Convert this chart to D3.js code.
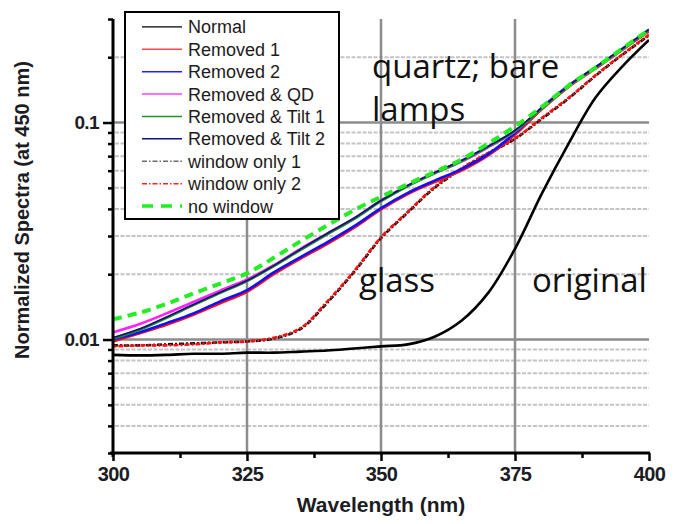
<!DOCTYPE html>
<html>
<head>
<meta charset="utf-8">
<script src="https://cdn.jsdelivr.net/npm/d3@7/dist/d3.min.js"></script>
<style>
  html, body { margin: 0; padding: 0; background: #fff; }
  svg { display: block; }
</style>
</head>
<body>
<svg id="chart" width="677" height="524"></svg>
<script>
// Wavelength grid (nm)
const wavelength = [300, 305, 310, 315, 320, 325, 330, 335, 340, 345, 350,
                    355, 360, 365, 370, 375, 380, 385, 390, 395, 400];

// Normalized spectra (normalized at 450 nm)
const normal      = [0.0085, 0.00845, 0.0085, 0.0086, 0.0086, 0.0087, 0.0087, 0.0088, 0.0089, 0.0091, 0.0093,
                     0.0095, 0.0103, 0.0122, 0.0164, 0.0262, 0.047, 0.080, 0.130, 0.181, 0.240];
const removed1    = [0.0098, 0.0107, 0.0117, 0.0130, 0.0147, 0.0166, 0.0200, 0.0236, 0.0276, 0.0328, 0.0398,
                     0.0468, 0.0532, 0.0600, 0.0705, 0.0880, 0.115, 0.146, 0.177, 0.216, 0.264];
const removed2    = [0.0100, 0.0108, 0.0119, 0.0132, 0.0150, 0.0169, 0.0204, 0.0240, 0.0281, 0.0333, 0.0403,
                     0.0474, 0.0540, 0.0610, 0.0715, 0.0895, 0.117, 0.148, 0.179, 0.218, 0.267];
const removedQD   = [0.0108, 0.0118, 0.0132, 0.0149, 0.0168, 0.0189, 0.0220, 0.0262, 0.0308, 0.0362, 0.0438,
                     0.0512, 0.0585, 0.0660, 0.0770, 0.0910, 0.116, 0.147, 0.178, 0.217, 0.267];
const removedTilt1 = [0.0101, 0.0111, 0.0126, 0.0144, 0.0164, 0.0186, 0.0218, 0.0259, 0.0306, 0.0360, 0.0434,
                     0.0510, 0.0583, 0.0665, 0.0775, 0.0915, 0.116, 0.147, 0.179, 0.218, 0.268];
const removedTilt2 = [0.0102, 0.0112, 0.0127, 0.0145, 0.0165, 0.0187, 0.0219, 0.0261, 0.0309, 0.0363, 0.0437,
                     0.0513, 0.0588, 0.0668, 0.0778, 0.0920, 0.117, 0.148, 0.180, 0.219, 0.269];
const windowOnly1 = [0.0094, 0.0094, 0.0095, 0.0096, 0.0097, 0.0098, 0.0101, 0.0112, 0.0148, 0.0205, 0.0293,
                     0.0385, 0.0500, 0.0610, 0.0720, 0.0840, 0.104, 0.129, 0.164, 0.205, 0.252];
const windowOnly2 = [0.0093, 0.0094, 0.0094, 0.0095, 0.0097, 0.0098, 0.0102, 0.0113, 0.0150, 0.0207, 0.0296,
                     0.0388, 0.0505, 0.0615, 0.0725, 0.0845, 0.105, 0.130, 0.165, 0.206, 0.254];
const noWindow    = [0.0124, 0.0133, 0.0146, 0.0163, 0.0181, 0.0202, 0.0238, 0.0284, 0.0336, 0.0395, 0.0455,
                     0.0520, 0.0592, 0.0675, 0.0800, 0.0960, 0.118, 0.148, 0.179, 0.219, 0.268];

// Axis ticks
const xMajorTicks = [300, 325, 350, 375, 400];
const xMinorTicks = [312.5, 337.5, 362.5, 387.5];
const yMajorTicks = [0.01, 0.1];
const yMajorLabels = ["0.01", "0.1"];
const yMinorTicks = [0.003, 0.004, 0.005, 0.006, 0.007, 0.008, 0.009,
                     0.02, 0.03, 0.04, 0.05, 0.06, 0.07, 0.08, 0.09, 0.2, 0.3];

// Text annotations
const notes = [
  { text: "quartz; bare", x: 372, y: 78 },
  { text: "lamps", x: 372, y: 121 },
  { text: "glass", x: 359, y: 292 },
  { text: "original", x: 532, y: 292 }
];

// Series drawing order and styles
const series = [
  { name: "window only 1",    values: windowOnly1,  color: "#111111", width: 2.6, dash: "5,2,2,2", offset: 0,   lColor: "#6a6a6a", lWidth: 1.5, lDash: "5,2,1.5,2" },
  { name: "window only 2",    values: windowOnly2,  color: "#ff1010", width: 2.6, dash: "5,2,2,2", offset: 5.5, lColor: "#ff2020", lWidth: 1.5, lDash: "5,2,1.5,2" },
  { name: "Removed 1",        values: removed1,     color: "#ff1010", width: 2.6, lColor: "#ff4a4a", lWidth: 1.5 },
  { name: "Removed 2",        values: removed2,     color: "#1010ff", width: 2.6, lColor: "#2020ff", lWidth: 1.5 },
  { name: "Removed & QD",     values: removedQD,    color: "#ff20ff", width: 2.6, lColor: "#ff40ff", lWidth: 1.5 },
  { name: "Removed & Tilt 1", values: removedTilt1, color: "#228b22", width: 2.6, lColor: "#2a8f2a", lWidth: 1.5 },
  { name: "Removed & Tilt 2", values: removedTilt2, color: "#101080", width: 1.6, lColor: "#101080", lWidth: 1.5 },
  { name: "no window",        values: noWindow,     color: "#22ee22", width: 4,   dash: "9,6",     offset: 0,   lColor: "#22ee22", lWidth: 3.5, lDash: "11,8" },
  { name: "Normal",           values: normal,       color: "#000000", width: 2.6, lColor: "#000000", lWidth: 1.2 }
];
const legendOrder = ["Normal", "Removed 1", "Removed 2", "Removed & QD", "Removed & Tilt 1",
                     "Removed & Tilt 2", "window only 1", "window only 2", "no window"];

const svg = d3.select("#chart");
const plot = { left: 113, right: 649, top: 19, bottom: 453 };

const x = d3.scaleLinear().domain([300, 400]).range([plot.left, plot.right]);
const y = d3.scaleLog().domain([0.003, 0.3]).range([plot.bottom, plot.top]);

svg.append("defs").append("clipPath").attr("id", "plotClip")
  .append("rect")
  .attr("x", plot.left).attr("y", plot.top)
  .attr("width", plot.right - plot.left).attr("height", plot.bottom - plot.top);

// Grid: dashed minor lines, solid major lines
const grid = svg.append("g");
grid.selectAll("line.minor")
  .data(yMinorTicks.filter(v => v > 0.003 && v < 0.3))
  .join("line")
  .attr("x1", plot.left + 2).attr("x2", plot.right)
  .attr("y1", d => y(d)).attr("y2", d => y(d))
  .attr("stroke", "#c4c4c4").attr("stroke-width", 2)
  .attr("stroke-dasharray", "4,1.5");
grid.selectAll("line.hmajor")
  .data(yMajorTicks)
  .join("line")
  .attr("x1", plot.left).attr("x2", plot.right)
  .attr("y1", d => y(d)).attr("y2", d => y(d))
  .attr("stroke", "#8c8c8c").attr("stroke-width", 2.5);
grid.selectAll("line.vmajor")
  .data(xMajorTicks.filter(v => v > 300 && v < 400))
  .join("line")
  .attr("x1", d => x(d)).attr("x2", d => x(d))
  .attr("y1", plot.top).attr("y2", plot.bottom)
  .attr("stroke", "#8c8c8c").attr("stroke-width", 2.5);

// Curves
const line = d3.line()
  .x((d, i) => x(wavelength[i]))
  .y(d => y(d))
  .curve(d3.curveCatmullRom.alpha(0.5));

const curves = svg.append("g").attr("clip-path", "url(#plotClip)");
series.forEach(s => {
  curves.append("path")
    .datum(s.values)
    .attr("d", line)
    .attr("fill", "none")
    .attr("stroke", s.color)
    .attr("stroke-width", s.width)
    .attr("stroke-linejoin", "round")
    .attr("stroke-dasharray", s.dash || null)
    .attr("stroke-dashoffset", s.offset || 0);
});

// Axes
const tickFont = "'Liberation Sans', Arial, sans-serif";

const xAxis = svg.append("g")
  .attr("transform", `translate(0,${plot.bottom})`)
  .call(d3.axisBottom(x).tickValues(xMajorTicks).tickSize(8).tickPadding(6)
        .tickFormat(d3.format("d")).tickSizeOuter(0));
xAxis.select(".domain").attr("stroke", "#000").attr("stroke-width", 2.8)
  .attr("d", `M${plot.left - 3},0H${plot.right + 1}`);
xAxis.selectAll(".tick line").attr("stroke", "#000").attr("stroke-width", 2.5);
xAxis.selectAll(".tick text")
  .attr("fill", "#1c1c24").attr("font-family", tickFont)
  .attr("font-weight", "bold").attr("font-size", 20).attr("letter-spacing", -0.6);

svg.append("g")
  .attr("transform", `translate(0,${plot.bottom})`)
  .call(d3.axisBottom(x).tickValues(xMinorTicks).tickSize(5).tickFormat(""))
  .call(g => g.select(".domain").remove())
  .call(g => g.selectAll(".tick line").attr("stroke", "#000").attr("stroke-width", 2.5));

const yAxis = svg.append("g")
  .attr("transform", `translate(${plot.left},0)`)
  .call(d3.axisLeft(y).tickValues(yMajorTicks).tickSize(10).tickPadding(4)
        .tickFormat((d, i) => yMajorLabels[i]).tickSizeOuter(0));
yAxis.select(".domain").attr("stroke", "#000").attr("stroke-width", 3)
  .attr("d", `M0,${plot.top}V${plot.bottom + 4}`);
yAxis.selectAll(".tick line").attr("stroke", "#000").attr("stroke-width", 2.5);
yAxis.selectAll(".tick text")
  .attr("fill", "#1c1c24").attr("font-family", tickFont)
  .attr("font-weight", "bold").attr("font-size", 19).attr("letter-spacing", -0.6);

svg.append("g")
  .attr("transform", `translate(${plot.left},0)`)
  .call(d3.axisLeft(y).tickValues(yMinorTicks).tickSize(5).tickFormat(""))
  .call(g => g.select(".domain").remove())
  .call(g => g.selectAll(".tick line").attr("stroke", "#000").attr("stroke-width", 2.5));

// Axis titles
svg.append("text")
  .attr("x", 381).attr("y", 512)
  .attr("text-anchor", "middle")
  .attr("font-family", tickFont).attr("font-weight", "bold").attr("font-size", 21)
  .attr("fill", "#1c1c24")
  .text("Wavelength (nm)");

svg.append("text")
  .attr("transform", "translate(29,210) rotate(-90)")
  .attr("text-anchor", "middle")
  .attr("font-family", tickFont).attr("font-weight", "bold").attr("font-size", 20)
  .attr("fill", "#1c1c24")
  .text("Normalized Spectra (at 450 nm)");

// Annotations
svg.append("g").selectAll("text")
  .data(notes)
  .join("text")
  .attr("x", d => d.x).attr("y", d => d.y)
  .attr("font-family", "'Open Sans', 'Noto Sans', sans-serif")
  .attr("font-size", 33)
  .attr("fill", "#111")
  .text(d => d.text);

// Legend
const legend = svg.append("g");
legend.append("rect")
  .attr("x", 125).attr("y", 12).attr("width", 214).attr("height", 207)
  .attr("fill", "#fff").attr("stroke", "#000").attr("stroke-width", 2);

const rowY = d3.scalePoint().domain(legendOrder).range([33.3, 212.6]);
legendOrder.forEach(name => {
  const s = series.find(t => t.name === name);
  const yy = rowY(name);
  legend.append("line")
    .attr("x1", 142).attr("x2", 182)
    .attr("y1", yy - 6.5).attr("y2", yy - 6.5)
    .attr("stroke", s.lColor).attr("stroke-width", s.lWidth)
    .attr("stroke-dasharray", s.lDash || null);
  legend.append("text")
    .attr("x", 188).attr("y", yy)
    .attr("font-family", tickFont).attr("font-size", 18)
    .attr("fill", "#1e1a1a")
    .text(name);
});
</script>
</body>
</html>
